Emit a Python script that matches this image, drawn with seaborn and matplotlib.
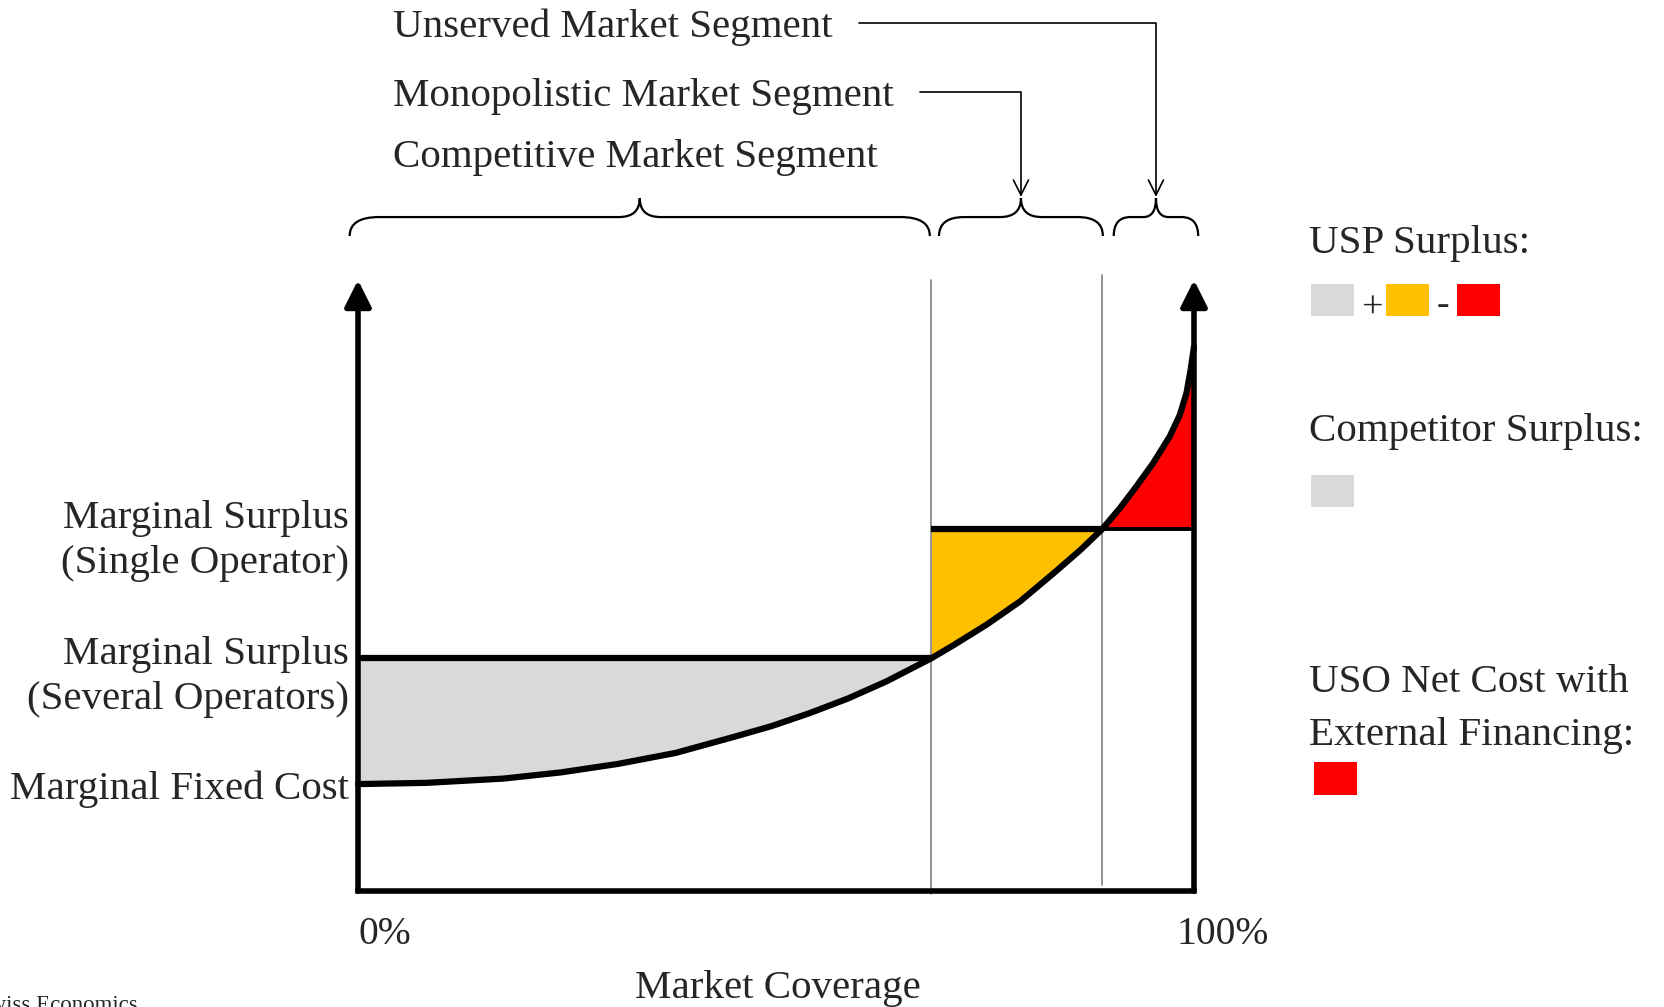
"""
Schematic of universal service costs across market segments.

Draws the marginal cost curve over market coverage with the surplus areas
of the competitive, monopolistic and unserved segments, and saves out.png.
"""

import numpy as np
import pandas as pd
import matplotlib
matplotlib.use("Agg")
import matplotlib.pyplot as plt
from matplotlib.path import Path
from matplotlib.patches import PathPatch, Rectangle
import seaborn as sns

# --- chart values (coverage in %, cost in arbitrary units, 100 = axis top) ---
coverage = [0, 8.2, 17.4, 24.2, 31.1, 38.0, 44.9, 49.5, 54.0, 58.6, 63.2,
            68.6, 71.2, 75.2, 79.2, 83.2, 86.4, 89.0, 91.1, 93.1, 95.1,
            97.1, 98.3, 99.1, 99.6, 100]
marginal_cost = [17.5, 17.7, 18.4, 19.4, 20.8, 22.6, 25.2, 27.0, 29.1, 31.5, 34.3,
                 38.1, 40.2, 43.6, 47.4, 52.0, 55.8, 59.2, 62.6, 66.2, 70.0,
                 74.4, 77.9, 81.5, 85.3, 89.1]
surplus_several = 38.1
surplus_single = 59.2
segment_bounds = [0, 68.6, 89.0, 100]
segment_labels = ["Competitive Market Segment",
                  "Monopolistic Market Segment",
                  "Unserved Market Segment"]
level_labels = ["Marginal Surplus\n(Single Operator)",
                "Marginal Surplus\n(Several Operators)",
                "Marginal Fixed Cost"]
x_tick_labels = ["0%", "100%"]
x_label = "Market Coverage"

GREY = "#D9D9D9"
YELLOW = "#FFC000"
RED = "#FF0000"

W, H = 1664, 1007
FS = 29.5

sns.set_theme(style="white")
plt.rcParams["font.family"] = ["Liberation Serif", "DejaVu Serif"]

fig = plt.figure(figsize=(W / 100, H / 100), dpi=100)
ax = fig.add_axes([0, 0, 1, 1])
ax.axis("off")


def fig_xy(px, py):
    """Pixel position (from top-left) to figure fraction."""
    return px / W, 1 - py / H


def draw_brace(ax, xa, xb, y_end, y_flat, y_tip, r_end, r_tip):
    xm = (xa + xb) / 2
    verts = [(xa, y_end), (xa, y_flat), (xa + r_end, y_flat),
             (xm - r_tip, y_flat),
             (xm, y_flat), (xm, y_tip),
             (xm, y_flat), (xm + r_tip, y_flat),
             (xb - r_end, y_flat),
             (xb, y_flat), (xb, y_end)]
    codes = [Path.MOVETO, Path.CURVE3, Path.CURVE3, Path.LINETO,
             Path.CURVE3, Path.CURVE3, Path.CURVE3, Path.CURVE3,
             Path.LINETO, Path.CURVE3, Path.CURVE3]
    ax.add_patch(PathPatch(Path(verts, codes), fill=False, lw=1.6,
                           edgecolor="black", clip_on=False))
    return xm


df = pd.DataFrame({"coverage": coverage, "cost": marginal_cost})
x = df["coverage"].to_numpy()
y = df["cost"].to_numpy()
b0, b1, b2, b3 = segment_bounds

# surplus areas
m1 = x <= b1
ax.fill_between(x[m1], y[m1], surplus_several, color=GREY, lw=0, zorder=1)
m2 = (x >= b1) & (x <= b2)
ax.fill_between(x[m2], y[m2], surplus_single, color=YELLOW, lw=0, zorder=1)
m3 = x >= b2
ax.fill_between(x[m3], surplus_single, y[m3], color=RED, lw=0, zorder=1)

# segment separators
ax.plot([b1, b1], [-0.5, 100], color="#808080", lw=1.2, zorder=3)
ax.plot([b2, b2], [1, 100.9], color="#808080", lw=1.2, zorder=3)

# surplus levels
ax.plot([b0, b1], [surplus_several] * 2, color="black", lw=4.5, zorder=4,
        solid_capstyle="butt")
ax.plot([b1, b2], [surplus_single] * 2, color="black", lw=4.5, zorder=4,
        solid_capstyle="butt")
ax.plot([b2, b3], [surplus_single] * 2, color="black", lw=2.8, zorder=4,
        solid_capstyle="butt")

# marginal cost curve
sns.lineplot(data=df, x="coverage", y="cost", color="black", lw=4.5,
             ax=ax, zorder=5)

# axes with arrows
ax.plot([b0, b3], [0, 0], color="black", lw=4, zorder=6,
        solid_capstyle="projecting")
for xv in (b0, b3):
    ax.annotate("", xy=(xv, 100), xytext=(xv, 0),
                arrowprops=dict(arrowstyle="-|>,head_length=0.8,head_width=0.4",
                                lw=4, color="black", mutation_scale=20,
                                shrinkA=0, shrinkB=0), zorder=6)

# map data onto the reference's pixel grid: x 0..100 -> 358..1194, y 0..100 -> 891..280
sx = (1194 - 358) / 100
sy = (891 - 280) / 100
ax.set_xlim(-358 / sx, (W - 358) / sx)
ax.set_ylim(-(H - 891) / sy, 891 / sy)

# axis labels
ax.text(b0, -7.1, x_tick_labels[0], fontsize=FS - 1, ha="left", va="center")
ax.text(b3 + 3.4, -7.1, x_tick_labels[1], fontsize=FS - 1, ha="center", va="center")
ax.text(50.2, -16.0, x_label, fontsize=FS, ha="center", va="center")

for label, yv in zip(level_labels, [57.3, 35.0, 16.7]):
    ax.text(-1.1, yv, label, fontsize=FS, ha="right", va="center",
            linespacing=1.3)

# braces over segments
pads = [(-1.0, -0.2), (0.9, 0.1), (1.4, 0.5)]
radii = [(3.5, 2.5), (3.0, 2.5), (2.0, 1.5)]
tips = []
for i in range(3):
    xa = segment_bounds[i] + pads[i][0]
    xb = segment_bounds[i + 1] + pads[i][1]
    tips.append(draw_brace(ax, xa, xb, 107.2, 110.3, 113.4, *radii[i]))

# segment titles with connectors
label_y = [120.0, 130.1, 141.4]
line_y = [120.7, 130.8, 142.1]
texts = []
for label, yv in zip(segment_labels, label_y):
    texts.append(ax.text(4.2, yv, label, fontsize=FS, ha="left", va="center"))

fig.canvas.draw()
inv = ax.transData.inverted()
for i in (1, 2):
    bb = texts[i].get_window_extent()
    x_start = inv.transform((bb.x1 + 26, 0))[0]
    ax.annotate("", xy=(tips[i], 113.6), xytext=(x_start, line_y[i]),
                arrowprops=dict(arrowstyle="->,head_length=0.75,head_width=0.375",
                                connectionstyle="angle,angleA=0,angleB=90,rad=0",
                                lw=1.2, color="black", mutation_scale=14.4,
                                shrinkA=0, shrinkB=0))

# legend on the right
fig.text(*fig_xy(1309, 244), "USP Surplus:", fontsize=FS, ha="left", va="center")
for x0, col in [(1311, GREY), (1386, YELLOW), (1457, RED)]:
    fig.add_artist(Rectangle(fig_xy(x0, 316), 43 / W, 32 / H,
                             transform=fig.transFigure, color=col, lw=0))
fig.text(*fig_xy(1372, 308), "+", fontsize=FS - 2, ha="center", va="center")
fig.text(*fig_xy(1443, 306), "-", fontsize=FS - 2, ha="center", va="center")

fig.text(*fig_xy(1309, 431), "Competitor Surplus:", fontsize=FS, ha="left", va="center")
fig.add_artist(Rectangle(fig_xy(1311, 507), 43 / W, 32 / H,
                         transform=fig.transFigure, color=GREY, lw=0))

fig.text(*fig_xy(1309, 682), "USO Net Cost with", fontsize=FS, ha="left", va="center")
fig.text(*fig_xy(1309, 735), "External Financing:", fontsize=FS, ha="left", va="center")
fig.add_artist(Rectangle(fig_xy(1314, 795), 43 / W, 33 / H,
                         transform=fig.transFigure, color=RED, lw=0))

# source line, cut off at the figure edge as in the original
fig.text(*fig_xy(138, 995), "Swiss Economics", fontsize=16.5, ha="right", va="top")

fig.savefig("out.png", dpi=100)
